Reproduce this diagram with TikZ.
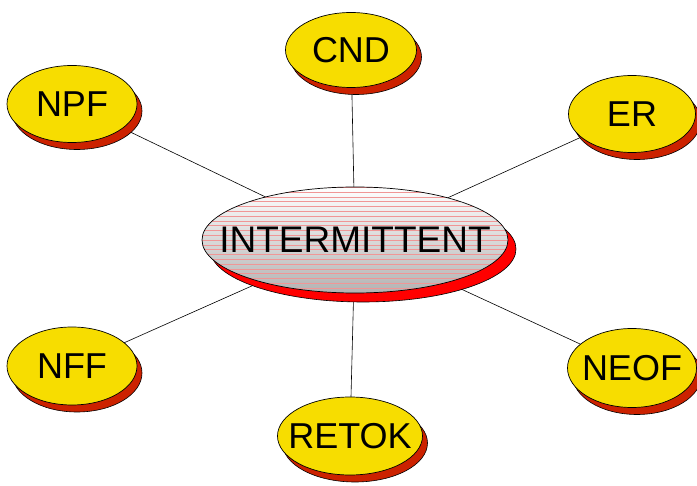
\documentclass[tikz,border=0pt]{standalone}
\usepackage{fontspec}
\setmainfont{Liberation Sans}

\definecolor{nodeyellow}{RGB}{247,221,0}
\definecolor{shadowred}{RGB}{204,34,0}
\definecolor{hubred}{RGB}{255,0,0}
\definecolor{stripe}{RGB}{240,150,150}

\tikzset{
  smallfill/.style={draw=black, fill=nodeyellow, line width=0.7pt},
  smallshadow/.style={draw=black, fill=shadowred, line width=0.6pt},
  hubfill/.style={draw=black, line width=0.7pt,
    top color=white, bottom color=gray!60,
    path picture={
      \foreach \k in {-11,...,11}
        \draw[stripe, line width=0.5pt]
          ([xshift=-170pt, yshift=\k*4.8pt]path picture bounding box.center)
          -- ++(340pt,0);
    }},
  hubshadow/.style={draw=black, fill=hubred, line width=0.6pt},
  label/.style={inner sep=0pt, font=\fontsize{36}{40}\selectfont},
  hublabel/.style={inner sep=0pt, font=\fontsize{37}{40}\selectfont},
  link/.style={draw=black, line width=0.6pt}
}

% \blob{name}{x}{y}{rx}{ry}{text}: yellow ellipse with a dropped red shadow
\newcommand\blob[6]{%
  \path[smallshadow] (#2+5,#3-7) ellipse [x radius=#4, y radius=#5];
  \path[smallfill] (#2,#3) ellipse [x radius=#4, y radius=#5];
  \node[label] (#1) at (#2,#3) {#6};
}

\begin{document}
\begin{tikzpicture}[x=1pt,y=1pt]
  \useasboundingbox (0,0) rectangle (697,-486);

  % coordinates of the ellipse centres
  \coordinate (cHub)   at (355,-240);
  \coordinate (cCnd)   at (351,-50);
  \coordinate (cNpf)   at (72,-104);
  \coordinate (cEr)    at (632,-114);
  \coordinate (cNff)   at (72,-366);
  \coordinate (cNeof)  at (632,-368);
  \coordinate (cRetok) at (350,-436);

  % spokes, drawn first so the ellipses cover their ends
  \foreach \c in {cCnd,cNpf,cEr,cNff,cNeof,cRetok}
    \path[link] (cHub) -- (\c);

  % central ellipse
  \path[hubshadow] (363,-249) ellipse [x radius=153, y radius=53];
  \path[hubfill] (cHub) ellipse [x radius=153, y radius=53];
  \node[hublabel] (hub) at (cHub) {INTERMITTENT};

  \blob{cnd}{351}{-50}{65.5}{37.5}{CND}
  \blob{npf}{72}{-104}{65}{38.5}{NPF}
  \blob{er}{632}{-114}{63.5}{38.5}{ER}
  \blob{nff}{72}{-366}{65}{39}{NFF}
  \blob{neof}{632}{-368}{64.5}{39.5}{NEOF}
  \blob{retok}{350}{-436}{72.5}{39}{RETOK}
\end{tikzpicture}
\end{document}
